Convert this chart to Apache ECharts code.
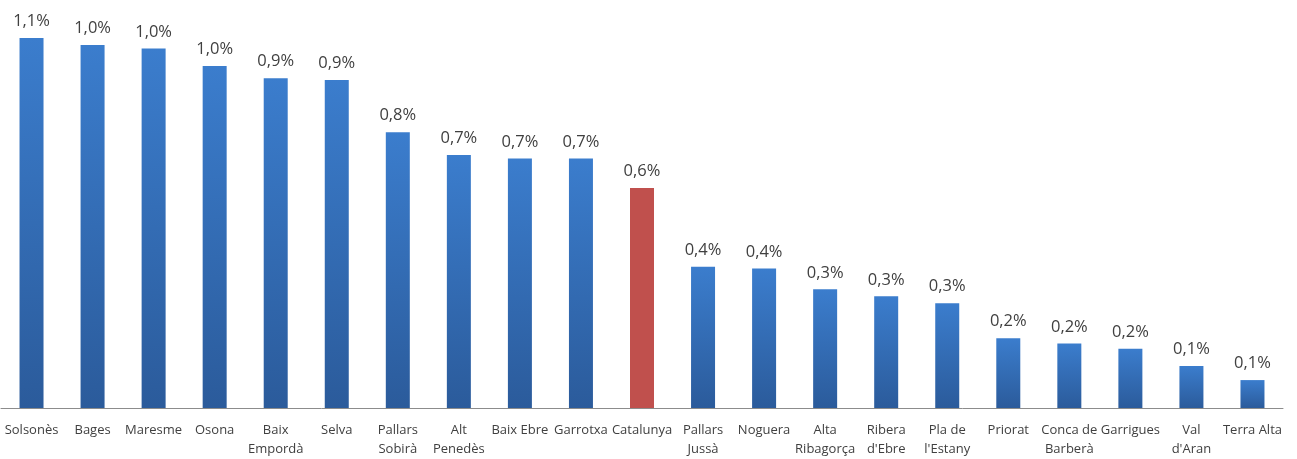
<!DOCTYPE html>
<html>
<head>
<meta charset="utf-8">
<script src="https://cdn.jsdelivr.net/npm/echarts@6/dist/echarts.min.js"></script>
<style>html,body{margin:0;padding:0;background:#fff}#c{width:1297px;height:459px}</style>
</head>
<body>
<div id="c"></div>
<script>
const categories = ["Solsonès","Bages","Maresme","Osona","Baix\nEmpordà","Selva","Pallars\nSobirà","Alt\nPenedès","Baix Ebre","Garrotxa","Catalunya","Pallars\nJussà","Noguera","Alta\nRibagorça","Ribera\nd'Ebre","Pla de\nl'Estany","Priorat","Conca de\nBarberà","Garrigues","Val\nd'Aran","Terra Alta"];
const values = [1.06,1.04,1.03,0.98,0.945,0.94,0.79,0.725,0.715,0.715,0.63,0.405,0.40,0.34,0.32,0.30,0.20,0.185,0.17,0.12,0.08];
const highlight = "Catalunya";

const blue = new echarts.graphic.LinearGradient(0,0,0,1,[{offset:0,color:'#3b7dcd'},{offset:1,color:'#2b5b9b'}]);
const red = '#c0504d';
const chart = echarts.init(document.getElementById('c'));
chart.setOption({
  animation:false,
  grid:{left:1,right:14,top:0,bottom:44,containLabel:false},
  xAxis:{type:'category',data:categories,
    axisLine:{lineStyle:{color:'#8c8c8c',width:1}},
    axisTick:{show:false},
    axisLabel:{interval:0,color:'#404040',fontFamily:'Open Sans',fontSize:13,lineHeight:19,margin:13}},
  yAxis:{type:'value',min:0,max:1.169,show:false,splitLine:{show:false}},
  series:[{type:'bar',barWidth:24,
    data:values.map((v,i)=>({value:v,itemStyle:{color:categories[i]===highlight?red:blue}})),
    label:{show:true,position:'top',distance:8,color:'#404040',fontFamily:'Open Sans',fontSize:16.5,
      formatter:p=>p.value.toFixed(1).replace('.',',')+'%'}}]
});
</script>
</body>
</html>
